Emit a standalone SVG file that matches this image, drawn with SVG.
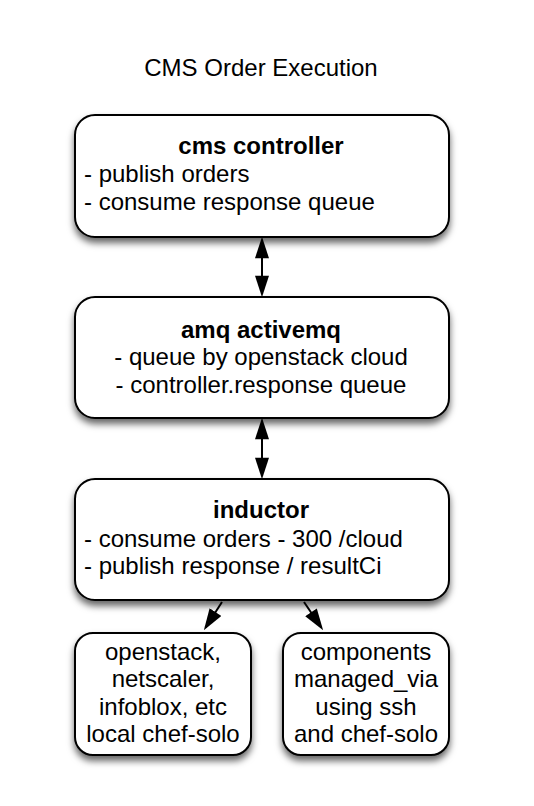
<svg xmlns="http://www.w3.org/2000/svg" width="534" height="806" viewBox="0 0 534 806">
<style>
text{font-family:"Liberation Sans",Arial,Helvetica,sans-serif;font-size:24px;fill:#000}
.b{font-weight:bold}
.c{text-anchor:middle}
.box{fill:#fff;stroke:#000;stroke-width:2;filter:url(#sh)}
.con{fill:none;stroke:#000;stroke-width:2}
</style>
<defs>
<filter id="sh" x="-10%" y="-10%" width="120%" height="130%">
<feDropShadow dx="0" dy="5" stdDeviation="3.5" flood-color="#000" flood-opacity="0.6"/>
</filter>
<marker id="ah" markerUnits="userSpaceOnUse" markerWidth="22" markerHeight="14" viewBox="0 0 20 13" refX="17" refY="6.5" orient="auto-start-reverse">
<path d="M0,0 L20,6.5 L0,13 z" fill="#000"/>
</marker>
</defs>
<rect width="534" height="806" fill="#fff"/>
<text class="c" x="261" y="76">CMS Order Execution</text>
<g id="connectors">
<path class="con" d="M262,240 L262,294" marker-start="url(#ah)" marker-end="url(#ah)"/>
<path class="con" d="M262,421 L262,476" marker-start="url(#ah)" marker-end="url(#ah)"/>
<path class="con" d="M222,602 L205.6,627.5" marker-end="url(#ah)"/>
<path class="con" d="M304,602 L321.3,627.5" marker-end="url(#ah)"/>
</g>
<g id="cms-controller">
<rect class="box" x="75" y="115" width="374" height="122" rx="20"/>
<text class="b c" x="261" y="154">cms controller</text>
<text x="84" y="182">- publish orders</text>
<text x="84" y="210">- consume response queue</text>
</g>
<g id="amq-activemq">
<rect class="box" x="75" y="297" width="374" height="121" rx="20"/>
<text class="b c" x="261" y="338">amq activemq</text>
<text class="c" x="261" y="365">- queue by openstack cloud</text>
<text class="c" x="261" y="393">- controller.response queue</text>
</g>
<g id="inductor">
<rect class="box" x="75" y="479" width="374" height="121" rx="20"/>
<text class="b c" x="261" y="518">inductor</text>
<text x="84" y="547">- consume orders - 300 /cloud</text>
<text x="84" y="574">- publish response / resultCi</text>
</g>
<g id="local-chef-solo">
<rect class="box" x="75" y="633" width="176" height="122" rx="18"/>
<text class="c" x="163" y="660">openstack,</text>
<text class="c" x="163" y="687">netscaler,</text>
<text class="c" x="163" y="715">infoblox, etc</text>
<text class="c" x="163" y="742">local chef-solo</text>
</g>
<g id="components-ssh">
<rect class="box" x="283" y="633" width="166" height="122" rx="18"/>
<text class="c" x="366" y="660">components</text>
<text class="c" x="366" y="687">managed_via</text>
<text class="c" x="366" y="715">using ssh</text>
<text class="c" x="366" y="742">and chef-solo</text>
</g>
</svg>
